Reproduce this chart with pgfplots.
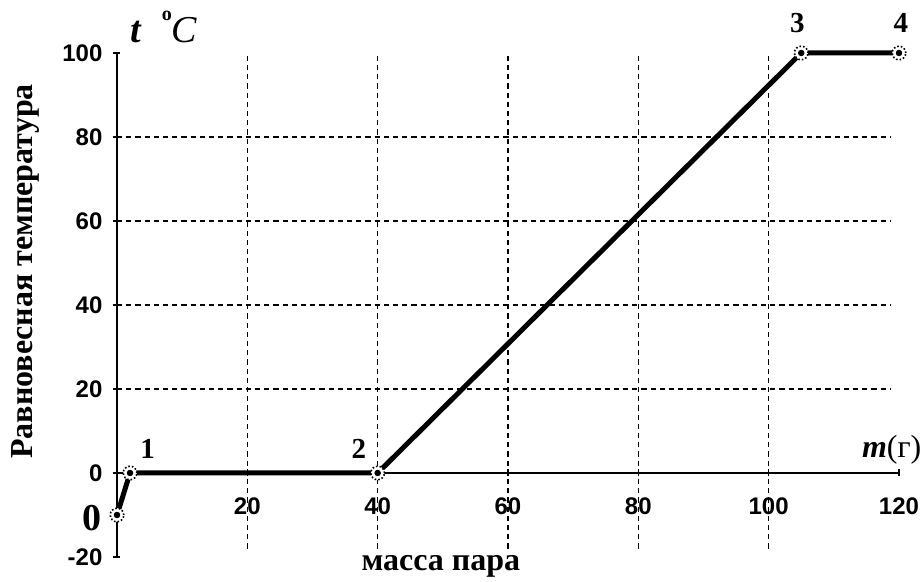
\documentclass[border=0pt]{standalone}
\usepackage{fontspec}
\setmainfont{Liberation Serif}
\newfontfamily\tickfont{Liberation Sans}
\usepackage{pgfplots}
\pgfplotsset{compat=1.18}

\begin{document}
\begin{tikzpicture}
\begin{axis}[
    scale only axis,
    width=391pt, height=252pt,
    xmin=0, xmax=120, ymin=-20, ymax=100,
    axis x line=middle, axis y line=left,
    axis line style={-, line width=0.7pt},
    xtick={20,40,60,80,100,120},
    xticklabels={20,40,60,80,100,120},
    ytick={-20,0,20,40,60,80,100},
    yticklabels={-20,0,20,40,60,80,100},
    tick style={black, line width=0.7pt},
    tick align=center, major tick length=3.5pt,
    ticklabel style={font=\tickfont\bfseries\fontsize{12}{13}\selectfont},
    xticklabel style={yshift=-7pt},
    yticklabel style={xshift=-2pt},
    clip=false,
]
    % grid
    \pgfplotsinvokeforeach{20,40,60,80,100}{
        \draw[dash pattern=on 2.6pt off 2pt, line width=0.8pt] (axis cs:#1,-18) -- (axis cs:#1,100);
    }
    \pgfplotsinvokeforeach{20,40,60,80}{
        \draw[dash pattern=on 2.6pt off 2pt, line width=0.8pt] (axis cs:0,#1) -- (axis cs:118.8,#1);
    }

    \addplot[black, line width=2.5pt, mark=none] coordinates {
        (0,-10) (2,0) (40,0) (105,100) (120,100)
    };
    \addplot[only marks, mark=*, mark size=3.4pt, mark options={fill=white, draw=black, densely dotted, line width=0.8pt}] coordinates {
        (0,-10) (2,0) (40,0) (105,100) (120,100)
    };
    \addplot[only marks, mark=*, mark size=1.4pt, black] coordinates {
        (0,-10) (2,0) (40,0) (105,100) (120,100)
    };

    \node[font=\bfseries\fontsize{19}{21}\selectfont] at (axis cs:-3.8,-10.7) {0};
    \node[font=\bfseries\fontsize{14.5}{16}\selectfont] at (axis cs:4.7,5.8) {1};
    \node[font=\bfseries\fontsize{14.5}{16}\selectfont] at (axis cs:37.1,5.8) {2};
    \node[font=\bfseries\fontsize{14.5}{16}\selectfont] at (axis cs:104.4,107.2) {3};
    \node[font=\bfseries\fontsize{14.5}{16}\selectfont] at (axis cs:120.3,107.2) {4};

    \node[anchor=base west, inner sep=0pt, font=\fontsize{19}{21}\selectfont] at (axis cs:2,102.4)
        {\textbf{\textit{t}}\hspace{10pt}\raisebox{1.3ex}{\bfseries\fontsize{10}{11}\selectfont o}\textit{C}};
    \node[anchor=base east, inner sep=0pt, font=\fontsize{16}{18}\selectfont] at (axis cs:123.5,3.6)
        {\textbf{\textit{m}}(г)};
    \node[rotate=90, font=\bfseries\fontsize{16}{18}\selectfont] at (axis cs:-14.1,48) {Равновесная температура};
    \node[font=\bfseries\fontsize{16}{18}\selectfont] at (axis cs:49.7,-22.3) {масса пара};

    \coordinate (sw) at (axis cs:0,-20);
\end{axis}
\pgfresetboundingbox
\path (sw) ++(-58.5pt,-12.5pt) rectangle ++(461.5pt,291pt);
\end{tikzpicture}
\end{document}
